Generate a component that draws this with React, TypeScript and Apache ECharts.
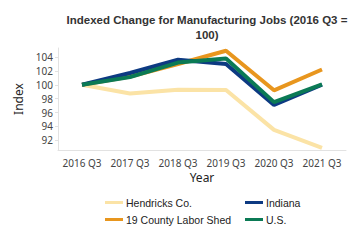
import React, { useEffect, useRef } from "react";
import * as echarts from "echarts";

const categories = ["2016 Q3", "2017 Q3", "2018 Q3", "2019 Q3", "2020 Q3", "2021 Q3"];
const hendricks = [100, 98.75, 99.3, 99.25, 93.5, 90.9];
const laborShed = [100, 101.2, 103.0, 104.9, 99.2, 102.2];
const indiana = [100, 101.7, 103.6, 103.0, 97.1, 100.0];
const us = [100, 101.1, 103.2, 103.8, 97.5, 100.05];
const yTicks = [92, 94, 96, 98, 100, 102, 104];

const colors = {
  hendricks: "#FBE3A6",
  laborShed: "#E8961E",
  indiana: "#0D3A82",
  us: "#0B7A55",
};

export default function App() {
  const ref = useRef<HTMLDivElement>(null);
  useEffect(() => {
    if (!ref.current) return;
    document.body.style.margin = "0";
    const chart = echarts.init(ref.current, null, { renderer: "svg" });
    const legendText = { fontFamily: "Liberation Sans", fontSize: 10.5, color: "#222" };
    const mkLegend = (name: string, left: number, top: number) => ({
      data: [name],
      left,
      top,
      icon: "rect",
      itemWidth: 18,
      itemHeight: 3,
      itemGap: 0,
      padding: 0,
      textStyle: { ...legendText, padding: [0, 0, 0, -2] },
    });
    chart.setOption({
      animation: false,
      title: {
        text: "Indexed Change for Manufacturing Jobs (2016 Q3 =\n100)",
        left: 207,
        top: 12,
        textAlign: "center",
        padding: 0,
        textStyle: {
          fontFamily: "Liberation Sans",
          fontWeight: "bold",
          fontSize: 11.5,
          lineHeight: 15,
          color: "#333",
        },
      },
      legend: [
        mkLegend("Hendricks Co.", 105, 197),
        mkLegend("19 County Labor Shed", 105, 214),
        mkLegend("Indiana", 245, 197),
        mkLegend("U.S.", 245, 214),
      ],
      grid: { left: 58, right: 14, top: 48, bottom: 90 },
      xAxis: {
        type: "category",
        data: categories,
        name: "Year",
        nameLocation: "middle",
        nameGap: 21,
        nameTextStyle: { fontFamily: "Noto Sans", fontSize: 12, color: "#222" },
        axisLine: { lineStyle: { color: "#E2E2E2" } },
        axisTick: { alignWithLabel: true, lineStyle: { color: "#E2E2E2" }, length: 4 },
        axisLabel: { interval: 0, fontFamily: "Noto Sans", fontSize: 10, color: "#444", margin: 8 },
      },
      yAxis: {
        type: "value",
        min: 90.6,
        max: 105.3,
        name: "Index",
        nameLocation: "middle",
        nameGap: 26,
        nameTextStyle: { fontFamily: "Noto Sans", fontSize: 12, color: "#222" },
        splitLine: { show: false },
        axisLine: { show: true, lineStyle: { color: "#E2E2E2" } },
        axisTick: { show: true, customValues: yTicks, length: 3, lineStyle: { color: "#E2E2E2" } },
        axisLabel: { customValues: yTicks, fontFamily: "Noto Sans", fontSize: 10, color: "#444", margin: 5 },
      },
      series: [
        { name: "Hendricks Co.", data: hendricks, color: colors.hendricks },
        { name: "19 County Labor Shed", data: laborShed, color: colors.laborShed },
        { name: "Indiana", data: indiana, color: colors.indiana },
        { name: "U.S.", data: us, color: colors.us },
      ].map((s) => ({
        ...s,
        type: "line",
        symbol: "none",
        lineStyle: { width: 4, color: s.color },
        itemStyle: { color: s.color },
      })),
    });
    return () => chart.dispose();
  }, []);
  return <div ref={ref} style={{ width: 360, height: 240 }} />;
}
